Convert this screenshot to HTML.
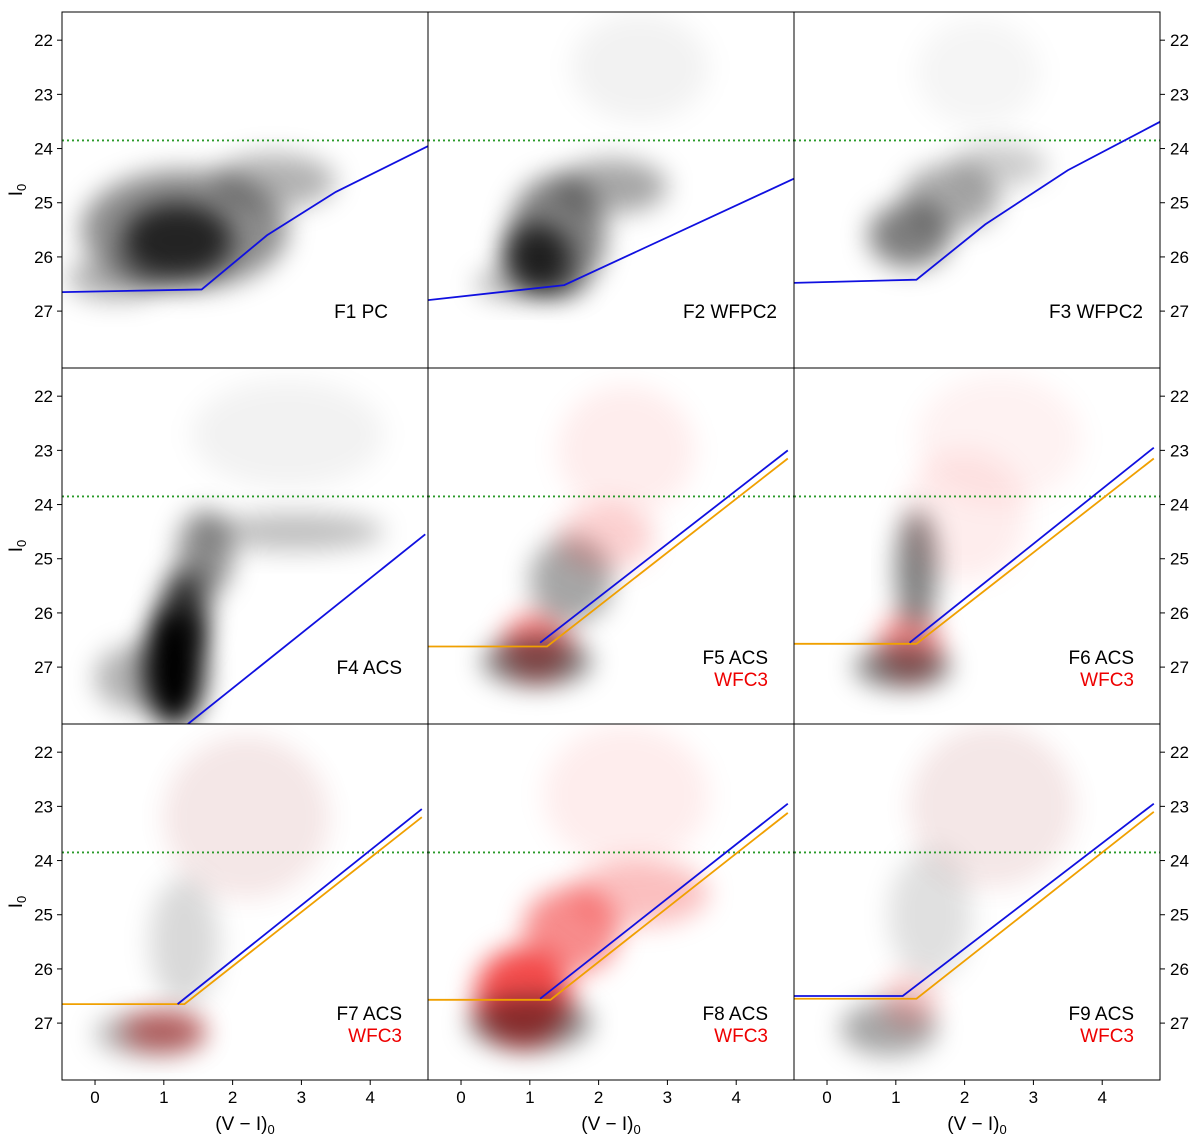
<!DOCTYPE html>
<html><head><meta charset="utf-8"><style>
body{margin:0;background:#fff;}
svg{display:block;font-family:"Liberation Sans",sans-serif;}
</style></head><body>
<svg id="c" width="1200" height="1143">
<defs>
<filter id="bl" x="-60%" y="-60%" width="220%" height="220%"><feGaussianBlur stdDeviation="13"/></filter>
</defs>
</svg>
<script>
// ---- data ----
const panelNames=[["F1 PC",""],["F2 WFPC2",""],["F3 WFPC2",""],["F4 ACS",""],["F5 ACS","WFC3"],["F6 ACS","WFC3"],["F7 ACS","WFC3"],["F8 ACS","WFC3"],["F9 ACS","WFC3"]];
const xTicks=[0,1,2,3,4];
const yTicks=[22,23,24,25,26,27];
const trgbMag=23.85;
const blueLines=[
 [[-0.5,26.65],[1.55,26.6],[2.5,25.6],[3.5,24.8],[4.85,23.95]],
 [[-0.5,26.8],[1.5,26.52],[4.85,24.55]],
 [[-0.5,26.48],[1.3,26.42],[2.3,25.4],[3.5,24.4],[4.85,23.5]],
 [[1.35,28.05],[4.8,24.55]],
 [[1.15,26.55],[4.75,23.0]],
 [[1.2,26.55],[4.75,22.95]],
 [[1.2,26.65],[4.75,23.05]],
 [[1.15,26.55],[4.75,22.95]],
 [[-0.5,26.5],[1.1,26.5],[4.75,22.95]]
];
const orangeLines=[null,null,null,null,
 [[-0.5,26.62],[1.25,26.62],[4.75,23.15]],
 [[-0.5,26.57],[1.3,26.57],[4.75,23.15]],
 [[-0.5,26.65],[1.3,26.65],[4.75,23.2]],
 [[-0.5,26.57],[1.3,26.57],[4.75,23.12]],
 [[-0.5,26.55],[1.3,26.55],[4.75,23.1]]
];
// density blobs: [color, mag, halfWidthColor, halfHeightMag, opacity, 'k'|'r']
const blobs=[
 [[1.3,25.5,1.5,1.1,0.45,'k'],[1.2,25.7,0.8,0.7,0.75,'k'],[2.6,24.6,0.9,0.5,0.3,'k'],[0.3,26.4,0.7,0.4,0.3,'k']],
 [[1.4,25.6,0.7,1.1,0.5,'k'],[1.1,26.0,0.5,0.6,0.75,'k'],[2.2,24.7,0.8,0.5,0.35,'k'],[1.0,26.5,0.8,0.3,0.3,'k'],[2.6,22.5,1.0,1.0,0.05,'k']],
 [[1.2,25.6,0.6,0.6,0.5,'k'],[1.8,24.9,0.7,0.6,0.35,'k'],[2.5,24.3,0.7,0.4,0.2,'k'],[2.2,22.6,0.9,1.0,0.04,'k']],
 [[1.15,27.0,0.45,1.1,1.0,'k'],[1.3,26.0,0.35,0.8,0.8,'k'],[1.6,24.9,0.4,0.8,0.45,'k'],[2.9,24.5,1.3,0.35,0.25,'k'],[0.6,27.2,0.6,0.6,0.3,'k'],[2.8,22.7,1.4,1.0,0.05,'k']],
 [[1.1,26.6,0.5,0.6,0.5,'r'],[1.1,26.9,0.8,0.45,0.5,'k'],[1.6,25.4,0.6,0.8,0.35,'k'],[2.1,24.6,0.7,0.6,0.18,'r'],[2.4,23.0,1.0,1.2,0.07,'r']],
 [[1.2,26.6,0.45,0.6,0.45,'r'],[1.1,27.0,0.7,0.4,0.5,'k'],[1.3,25.2,0.3,1.1,0.5,'k'],[2.0,24.2,0.9,1.2,0.07,'r'],[2.5,22.8,1.2,1.2,0.05,'r']],
 [[1.0,27.15,0.6,0.35,0.5,'r'],[0.8,27.2,0.8,0.4,0.3,'k'],[1.3,25.5,0.5,1.2,0.15,'k'],[2.2,23.2,1.2,1.5,0.06,'r'],[2.2,23.2,1.2,1.5,0.04,'k']],
 [[0.9,26.5,0.7,0.9,0.7,'r'],[1.0,27.0,0.9,0.5,0.45,'k'],[1.6,25.3,0.7,0.8,0.45,'r'],[2.6,24.6,1.0,0.6,0.25,'r'],[2.4,22.8,1.2,1.3,0.07,'r']],
 [[0.9,27.1,0.7,0.5,0.35,'k'],[1.2,26.6,0.4,0.5,0.2,'r'],[1.5,25.0,0.6,1.2,0.12,'k'],[2.4,23.0,1.2,1.5,0.06,'r'],[2.4,23.0,1.2,1.5,0.04,'k']]
];
const labelRight=[326,349,349,340,340,340,340,340,340];
// ---- drawing ----
const NS="http://www.w3.org/2000/svg";
const svg=document.getElementById('c');
const colL=[62,428,794], rowT=[12,368,724], PW=366, PH=356;
const X0=-0.48,X1=4.84,Y0=21.48,Y1=28.05;
function sx(c,v){return colL[c]+(v-X0)/(X1-X0)*PW;}
function sy(r,v){return rowT[r]+(v-Y0)/(Y1-Y0)*PH;}
function mk(t,a,p){const e=document.createElementNS(NS,t);for(const k in a)e.setAttribute(k,a[k]);(p||svg).appendChild(e);return e;}
for(let i=0;i<9;i++){
 const c=i%3,r=Math.floor(i/3);
 const g=mk('g',{});
 
 
 const cp=mk('clipPath',{id:'cp'+i},g);mk('rect',{x:colL[c],y:rowT[r],width:PW,height:PH},cp);
 const inner=mk('g',{'clip-path':'url(#cp'+i+')'},g);
 blobs[i].forEach(b=>{
  const e=mk('ellipse',{cx:sx(c,b[0]),cy:sy(r,b[1]),rx:b[2]*PW/(X1-X0),ry:b[3]*PH/(Y1-Y0),fill:b[5]=='r'?'#e00':'#000','fill-opacity':b[4],filter:'url(#bl)'},inner);
  
  
 });
 const gl=mk('line',{x1:colL[c],x2:colL[c]+PW,y1:sy(r,trgbMag),y2:sy(r,trgbMag),stroke:'#2a9a2a','stroke-width':1.8,'stroke-dasharray':'2,3'},inner);
 
 
 if(orangeLines[i]){const o=mk('polyline',{points:orangeLines[i].map(p=>sx(c,p[0])+','+sy(r,p[1])).join(' '),fill:'none',stroke:'#f0a000','stroke-width':1.8},inner);
  
  }
 const bl=mk('polyline',{points:blueLines[i].map(p=>sx(c,p[0])+','+sy(r,p[1])).join(' '),fill:'none',stroke:'#1010e0','stroke-width':1.8},inner);
 
 
 mk('rect',{x:colL[c],y:rowT[r],width:PW,height:PH,fill:'none',stroke:'#000','stroke-width':1},g);
 const t1=mk('text',{x:colL[c]+labelRight[i],y:rowT[r]+(panelNames[i][1]?296:306),'text-anchor':'end','font-size':19},g);t1.textContent=panelNames[i][0];
 
 
 if(panelNames[i][1]){const t2=mk('text',{x:colL[c]+340,y:rowT[r]+318,'text-anchor':'end','font-size':19,fill:'#e00'},g);t2.textContent=panelNames[i][1];
  
  }
 yTicks.forEach(v=>{const y=sy(r,v);
  if(c==0){mk('line',{x1:colL[0]-5,x2:colL[0],y1:y,y2:y,stroke:'#000'},g);const t=mk('text',{x:colL[0]-9,y:y+6,'text-anchor':'end','font-size':17},g);t.textContent=v;
   
   }
  if(c==2){mk('line',{x1:colL[2]+PW,x2:colL[2]+PW+5,y1:y,y2:y,stroke:'#000'},g);const t=mk('text',{x:colL[2]+PW+10,y:y+6,'font-size':17},g);t.textContent=v;
   
   }
 });
 if(r==2){xTicks.forEach(v=>{const x=sx(c,v);mk('line',{x1:x,x2:x,y1:1080,y2:1085,stroke:'#000'},g);const t=mk('text',{x:x,y:1103,'text-anchor':'middle','font-size':17},g);t.textContent=v;
  
  });
  const xt=mk('text',{x:colL[c]+183,y:1130,'text-anchor':'middle','font-size':19},g);xt.innerHTML='(V − I)<tspan font-size="13" dy="4">0</tspan>';
  
  }
 if(c==0){const yt=mk('text',{transform:'translate(22,'+(rowT[r]+178)+') rotate(-90)','text-anchor':'middle','font-size':19},g);yt.innerHTML='I<tspan font-size="13" dy="4">0</tspan>';
  
  }
}
</script>
</body></html>
